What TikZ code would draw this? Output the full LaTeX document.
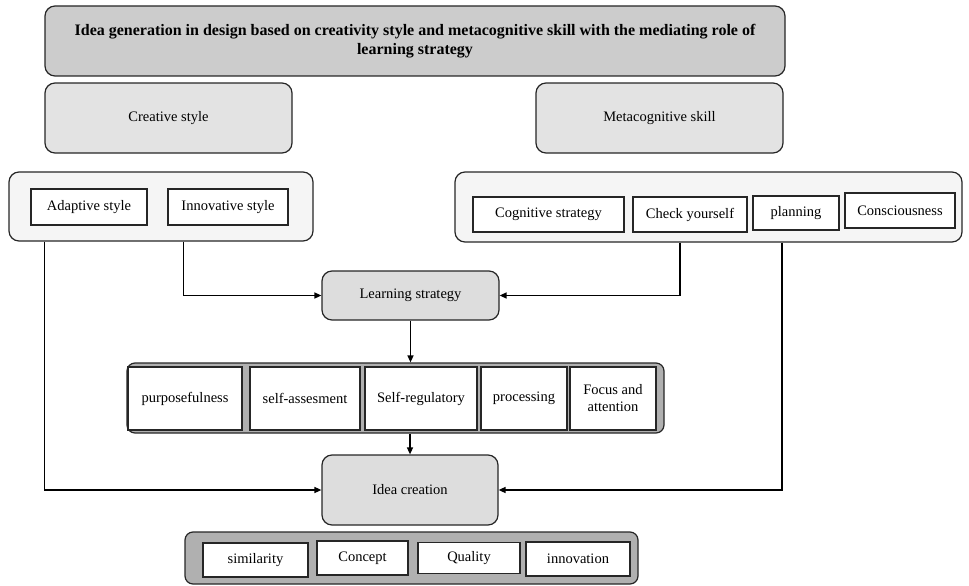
\documentclass[tikz,border=0pt]{standalone}
\usepackage{fontspec}
\setmainfont{Liberation Serif}
\usetikzlibrary{arrows.meta}
\begin{document}
\begin{tikzpicture}[x=1pt,y=-1pt,
  every node/.style={font=\fontsize{14.5}{17}\selectfont, inner sep=0pt, align=center},
  titlebox/.style={draw=black!85, line width=1.2pt, rounded corners=10pt, fill=gray!40,
    font=\fontsize{16}{18.5}\selectfont\bfseries},
  headbox/.style={draw=black!85, line width=1.2pt, rounded corners=10pt, fill=gray!22},
  groupbox/.style={draw=black!85, line width=1.2pt, rounded corners=10pt, fill=gray!8},
  darkgroup/.style={draw=black!85, line width=1.2pt, rounded corners=8pt, fill=gray!62},
  itembox/.style={draw=black!85, line width=1.1pt, fill=white},
  midbox/.style={draw=black!85, line width=1.2pt, rounded corners=10pt, fill=gray!27},
  link/.style={draw=black, line width=1.4pt, -{Triangle[length=7pt,width=6pt]}}]
\useasboundingbox (0,0) rectangle (969,586);

% title and the two main variables
\node[titlebox, minimum width=740pt, minimum height=70pt] (title) at (415,41)
  {Idea generation in design based on creativity style and metacognitive skill with the mediating role of\\learning strategy};
\node[headbox, minimum width=247pt, minimum height=70pt] (creative) at (168.5,118) {Creative style};
\node[headbox, minimum width=247pt, minimum height=70pt] (meta) at (659.5,118) {Metacognitive skill};

% creativity style components
\node[groupbox, minimum width=304pt, minimum height=69pt] (leftgrp) at (161,206.5) {};
\node[itembox, minimum width=116pt, minimum height=36pt] (adapt) at (89,207) {Adaptive style};
\node[itembox, minimum width=120pt, minimum height=36pt] (innov) at (228,207) {Innovative style};

% metacognitive skill components
\node[groupbox, minimum width=507pt, minimum height=70pt] (rightgrp) at (708.5,207) {};
\node[itembox, minimum width=151pt, minimum height=35pt] (cog) at (548.5,214.5) {Cognitive strategy};
\node[itembox, minimum width=114pt, minimum height=35pt] (check) at (690,214.5) {Check yourself};
\node[itembox, minimum width=86pt, minimum height=34pt] (plan) at (796,213) {planning};
\node[itembox, minimum width=110pt, minimum height=35pt] (consc) at (900,210.5) {Consciousness};

% mediator
\node[midbox, minimum width=177pt, minimum height=49pt] (learn) at (410.5,295.5) {Learning strategy};

% learning strategy components
\node[darkgroup, minimum width=537pt, minimum height=70pt] (bar) at (395.5,398) {};
\node[itembox, minimum width=114pt, minimum height=63pt] (purp) at (185,398.5) {purposefulness};
\node[itembox, minimum width=110pt, minimum height=63pt] (selfa) at (305,398.5) {self-assesment};
\node[itembox, minimum width=112pt, minimum height=63pt] (selfr) at (421,398.5) {Self-regulatory};
\node[itembox, minimum width=86pt, minimum height=63pt] (proc) at (524,398.5) {processing};
\node[itembox, minimum width=86pt, minimum height=63pt] (focus) at (613,398.5) {Focus and\\attention};

% outcome
\node[midbox, minimum width=176pt, minimum height=70pt] (idea) at (410,490) {Idea creation};

% outcome components
\node[darkgroup, minimum width=453pt, minimum height=52pt] (botgrp) at (411.5,558) {};
\node[itembox, minimum width=105pt, minimum height=34pt] (sim) at (255.5,560) {similarity};
\node[itembox, minimum width=91pt, minimum height=34pt] (concept) at (362.5,558) {Concept};
\node[itembox, minimum width=102pt, minimum height=31pt] (quality) at (469,558) {Quality};
\node[itembox, minimum width=104pt, minimum height=34pt] (innovn) at (578,559) {innovation};

% connectors
\draw[link] ([xshift=16pt]innov.west |- leftgrp.south) |- (learn.west);
\draw[link] ([xshift=-10pt]check.south |- rightgrp.south) |- (learn.east);
\draw[link] ([xshift=14pt]adapt.west |- leftgrp.south) |- (idea.west);
\draw[link] ([xshift=-14pt]plan.south |- rightgrp.south) |- (idea.east);
\draw[link] (learn.south) -- (learn.south |- bar.north);
\draw[link] (idea.north |- bar.south) -- (idea.north);
\end{tikzpicture}
\end{document}
